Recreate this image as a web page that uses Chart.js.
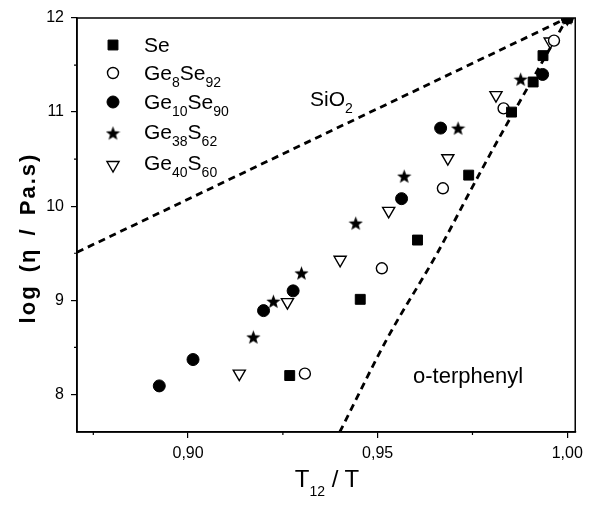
<!DOCTYPE html>
<html>
<head>
<meta charset="utf-8">
<title>log viscosity vs T12/T</title>
<script src="https://cdn.jsdelivr.net/npm/chart.js@4.4.1/dist/chart.umd.min.js"></script>
<style>
  body { margin: 0; background: #fff; }
  #wrap { position: relative; width: 589px; height: 505px; font-family: "Liberation Sans", Arial, sans-serif; color: #000; }
  #wrap canvas { position: absolute; left: 0; top: 0; }
  .lbl { position: absolute; white-space: nowrap; font-size: 21px; line-height: 1; }
  .lbl sub { font-size: 14px; vertical-align: 0; position: relative; top: 7px; }
  #xtitle { position: absolute; left: 327px; top: 467px; transform: translateX(-50%);
            font-size: 24px; white-space: nowrap; line-height: 1; }
  #xtitle sub { font-size: 14px; vertical-align: 0; position: relative; top: 9px; }
</style>
</head>
<body>
<div id="wrap">
  <canvas id="myChart" width="589" height="505"></canvas>
  <div class="lbl" style="left:144px; top:34px">Se</div>
  <div class="lbl" style="left:144px; top:62px">Ge<sub>8</sub>Se<sub>92</sub></div>
  <div class="lbl" style="left:144px; top:91px">Ge<sub>10</sub>Se<sub>90</sub></div>
  <div class="lbl" style="left:144px; top:121px">Ge<sub>38</sub>S<sub>62</sub></div>
  <div class="lbl" style="left:144px; top:152px">Ge<sub>40</sub>S<sub>60</sub></div>
  <div class="lbl" style="left:310px; top:88px">SiO<sub>2</sub></div>
  <div class="lbl" style="left:413px; top:365px; font-size:22px">o-terphenyl</div>
  <div id="xtitle">T<sub>12</sub> / T</div>
</div>

<script>
// measured viscosities, x = T12/T, y = log(eta / Pa.s)
var seX   = [0.9268, 0.9454, 0.9605, 0.9740, 0.9853, 0.9910, 0.9936, 1.0];
var seY   = [8.20, 9.01, 9.64, 10.33, 11.00, 11.32, 11.60, 12.0];
var ge8X  = [0.9308, 0.9511, 0.9672, 0.9832, 0.9965, 1.0];
var ge8Y  = [8.22, 9.34, 10.19, 11.04, 11.76, 12.0];
var ge10X = [0.8924, 0.9013, 0.9199, 0.9277, 0.9563, 0.9666, 0.9935, 1.0];
var ge10Y = [8.09, 8.37, 8.89, 9.10, 10.08, 10.83, 11.40, 12.0];
var ge38X = [0.9172, 0.9225, 0.9299, 0.9442, 0.9570, 0.9712, 0.9877, 1.0];
var ge38Y = [8.61, 8.99, 9.29, 9.82, 10.32, 10.83, 11.35, 12.0];
var ge40X = [0.9135, 0.9262, 0.9401, 0.9529, 0.9685, 0.9812, 0.9955, 1.0];
var ge40Y = [8.22, 8.98, 9.43, 9.95, 10.51, 11.18, 11.75, 12.0];

// reference liquids (strong and fragile limits)
var sio2X = [0.8707, 1.0];
var sio2Y = [9.51, 12.0];
var otpX  = [0.9400, 0.9526, 0.9657, 0.9744, 0.9814, 0.9897, 1.0];
var otpY  = [7.60, 8.60, 9.50, 10.16, 10.68, 11.27, 12.0];

var xTicks = [0.90, 0.95, 1.00];
var xMinor = [0.875, 0.925, 0.975];
var yTicks = [8, 9, 10, 11, 12];
var yMinor = [8.5, 9.5, 10.5, 11.5];
var yTitle = 'log (\u03b7 / Pa.s)';

function pts(xs, ys) {
    return xs.map(function (x, i) { return { x: x, y: ys[i] }; });
}

// filled five-pointed star used as a point style
function starImage(size) {
    var c = document.createElement('canvas');
    c.width = c.height = size;
    var g = c.getContext('2d');
    var R = size / 2, r = R * 0.42, cx = size / 2, cy = size / 2 + 0.8;
    g.beginPath();
    for (var i = 0; i < 10; i++) {
        var a = -Math.PI / 2 + i * Math.PI / 5;
        var rr = (i % 2) ? r : R;
        g.lineTo(cx + rr * Math.cos(a), cy + rr * Math.sin(a));
    }
    g.closePath();
    g.fillStyle = '#000';
    g.fill();
    return c;
}
var star = starImage(15);

var series = [
    { label: 'Se',       data: pts(seX, seY),     pointStyle: 'rect',     pointRadius: 7,   pointBackgroundColor: '#000', pointBorderWidth: 1 },
    { label: 'Ge8Se92',  data: pts(ge8X, ge8Y),   pointStyle: 'circle',   pointRadius: 5.5, pointBackgroundColor: '#fff', pointBorderWidth: 1.4 },
    { label: 'Ge10Se90', data: pts(ge10X, ge10Y), pointStyle: 'circle',   pointRadius: 6,   pointBackgroundColor: '#000', pointBorderWidth: 1 },
    { label: 'Ge38S62',  data: pts(ge38X, ge38Y), pointStyle: star,       pointRadius: 7,   pointBackgroundColor: '#000', pointBorderWidth: 0 },
    { label: 'Ge40S60',  data: pts(ge40X, ge40Y), pointStyle: 'triangle', pointRadius: 7,   pointBackgroundColor: '#fff', pointBorderWidth: 1.4, pointRotation: 180 }
];
series.forEach(function (s) {
    s.showLine = false;
    s.pointBorderColor = '#000';
    s.pointHoverRadius = s.pointRadius;
    s.order = 1;
});

var lines = [
    { label: 'SiO2',        data: pts(sio2X, sio2Y) },
    { label: 'o-terphenyl', data: pts(otpX, otpY), cubicInterpolationMode: 'monotone' }
];
lines.forEach(function (l) {
    l.showLine = true;
    l.borderColor = '#000';
    l.borderWidth = 2.8;
    l.borderDash = [7, 5];
    l.pointRadius = 0;
    l.order = 2;
});

// frame, minor ticks, y title and legend symbols
var decor = {
    id: 'decor',
    beforeDatasetsDraw: function (chart) {
        var ctx = chart.ctx, a = chart.chartArea;
        var xs = chart.scales.x, ys = chart.scales.y;
        ctx.save();
        ctx.strokeStyle = '#000';
        ctx.lineWidth = 1.5;
        ctx.strokeRect(a.left, a.top, a.right - a.left, a.bottom - a.top);
        ctx.lineWidth = 1.2;
        ctx.beginPath();
        xMinor.forEach(function (v) {
            var px = xs.getPixelForValue(v);
            ctx.moveTo(px, a.bottom); ctx.lineTo(px, a.bottom + 3);
        });
        yMinor.forEach(function (v) {
            var py = ys.getPixelForValue(v);
            ctx.moveTo(a.left, py); ctx.lineTo(a.left - 3, py);
        });
        ctx.stroke();

        // rotated axis title, slightly spaced
        ctx.translate(29, (a.top + a.bottom) / 2 + 13);
        ctx.rotate(-Math.PI / 2);
        ctx.font = 'bold 22px "Liberation Sans", Arial, sans-serif';
        ctx.letterSpacing = '2px';
        ctx.wordSpacing = '4px';
        ctx.fillStyle = '#000';
        ctx.textAlign = 'center';
        ctx.textBaseline = 'middle';
        ctx.fillText(yTitle, 0, 0);
        ctx.restore();
    },
    afterDraw: function (chart) {
        var ctx = chart.ctx;
        var rows = [45, 73, 102, 133, 165];
        ctx.save();
        series.forEach(function (s, i) {
            ctx.fillStyle = s.pointBackgroundColor;
            ctx.strokeStyle = '#000';
            ctx.lineWidth = s.pointBorderWidth;
            Chart.helpers.drawPoint(ctx, {
                pointStyle: s.pointStyle,
                radius: s.pointRadius,
                rotation: s.pointRotation || 0,
                borderWidth: s.pointBorderWidth
            }, 113, rows[i]);
        });
        ctx.restore();
    }
};

var tickFont = { family: '"Liberation Sans", Arial, sans-serif', size: 16 };

new Chart(document.getElementById('myChart'), {
    type: 'scatter',
    data: { datasets: lines.concat(series) },
    options: {
        responsive: false,
        animation: false,
        layout: { padding: { top: 18, right: 10, left: 0, bottom: 0 } },
        plugins: { legend: { display: false }, tooltip: { enabled: false } },
        scales: {
            x: {
                type: 'linear', min: 0.8707, max: 1.0021,
                afterBuildTicks: function (s) { s.ticks = xTicks.map(function (v) { return { value: v }; }); },
                afterFit: function (s) { s.height = 73; },
                ticks: {
                    color: '#000', font: tickFont, padding: 6, maxRotation: 0,
                    callback: function (v) { return v.toFixed(2).replace('.', ','); }
                },
                grid: { drawOnChartArea: false, tickLength: 6, color: '#000', lineWidth: 1.2 },
                border: { color: '#000', width: 1.5 }
            },
            y: {
                type: 'linear', min: 7.6, max: 12,
                afterBuildTicks: function (s) { s.ticks = yTicks.map(function (v) { return { value: v }; }); },
                afterFit: function (s) { s.width = 77; },
                ticks: { color: '#000', font: tickFont, padding: 7 },
                grid: { drawOnChartArea: false, tickLength: 6, color: '#000', lineWidth: 1.2 },
                border: { color: '#000', width: 1.5 }
            }
        }
    },
    plugins: [decor]
});
</script>
</body>
</html>
